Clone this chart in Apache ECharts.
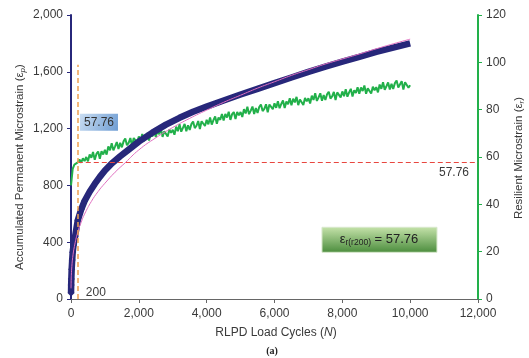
<!DOCTYPE html>
<html>
<head>
<meta charset="utf-8">
<script src="https://cdn.jsdelivr.net/npm/echarts@6/dist/echarts.min.js"></script>
<style>
html, body { margin: 0; padding: 0; background: #fff; }
#chart { width: 529px; height: 358px; }
</style>
</head>
<body>
<div id="chart"></div>
<script>
// accumulated permanent microstrain (left axis)
const permCycles = [1, 5, 10, 20, 35, 50, 75, 120, 200, 300, 400, 550, 700, 850, 1000, 1200, 1450, 1700, 2000, 2400, 2800, 3200, 3600, 4000, 4500, 5000, 5500, 6000, 6500, 7000, 7500, 8000, 8500, 9000, 9500, 10000];
const permStrain = [42, 98, 140, 210, 274, 330, 380, 440, 555, 630, 690, 755, 810, 860, 905, 955, 1005, 1052, 1108, 1172, 1228, 1276, 1318, 1355, 1398, 1440, 1480, 1520, 1560, 1600, 1636, 1671, 1705, 1740, 1770, 1800];

// power-law fit (left axis)
const fitCycles = [1, 5, 10, 25, 50, 100, 200, 300, 400, 600, 800, 1000, 1300, 1600, 2000, 2500, 3000, 3500, 4000, 4500, 5000, 5500, 6000, 6500, 7000, 7500, 8000, 8500, 9000, 9500, 10000];
const fitStrain = [75, 130, 167, 230, 292, 370, 471, 540, 598, 687, 757, 815, 893, 960, 1050, 1135, 1208, 1272, 1330, 1385, 1435, 1485, 1530, 1575, 1615, 1655, 1690, 1725, 1762, 1797, 1830];

// resilient microstrain (right axis), one sample every 50 cycles
const resStep = 50;
const resStrain = [
  48.0, 55.0, 56.8, 57.0, 57.76, 58.9, 57.6, 59.4, 58.3, 60.0,
  58.2, 61.1, 59.7, 62.1, 58.8, 61.3, 62.3, 59.3, 62.4, 61.1,
  63.0, 61.0, 64.5, 62.8, 65.8, 62.8, 64.5, 66.3, 63.4, 66.0,
  64.1, 66.6, 67.8, 65.0, 66.0, 68.0, 64.7, 68.0, 67.5, 66.1,
  68.7, 66.8, 69.7, 66.7, 68.6, 70.1, 67.0, 69.7, 68.7, 71.2,
  68.4, 71.2, 69.6, 72.0, 68.5, 70.9, 71.7, 68.7, 71.6, 70.2,
  71.5, 69.4, 72.8, 70.9, 73.8, 70.7, 72.3, 74.0, 70.9, 73.4,
  71.4, 73.9, 75.0, 72.2, 73.2, 75.2, 71.8, 75.1, 74.6, 73.1,
  75.7, 73.8, 76.7, 73.7, 75.6, 77.1, 74.0, 76.7, 75.7, 78.2,
  75.4, 78.2, 76.7, 79.1, 75.7, 78.1, 79.0, 76.0, 79.0, 77.6,
  79.0, 76.9, 80.2, 78.4, 81.2, 78.1, 79.6, 81.3, 78.2, 80.7,
  78.6, 81.1, 82.2, 79.4, 80.3, 82.3, 78.9, 82.2, 81.6, 80.2,
  82.7, 80.8, 83.6, 80.6, 82.4, 83.9, 80.7, 83.4, 82.3, 84.8,
  81.9, 84.6, 83.1, 85.4, 81.9, 84.3, 85.1, 82.0, 84.9, 83.5,
  84.8, 82.6, 85.9, 84.1, 86.9, 83.7, 85.2, 86.9, 83.8, 86.2,
  84.1, 86.5, 87.6, 84.7, 85.6, 87.5, 84.1, 87.3, 86.7, 85.2,
  87.7, 85.7, 88.6, 85.5, 87.3, 88.8, 85.6, 88.2, 87.1, 89.5,
  86.7, 89.4, 87.9, 90.2, 86.7, 89.0, 89.8, 86.8, 89.7, 88.2,
  89.5, 87.3, 90.6, 88.8, 91.6, 88.4, 89.9, 91.5, 88.5, 90.9,
  88.8, 91.2, 92.3, 89.4, 90.2, 92.0, 88.5, 91.6, 90.9, 89.3,
  90.3
];

const xTicks = { min: 0, max: 12000, step: 2000 };
const leftTicks = { min: 0, max: 2000, step: 400 };
const rightTicks = { min: 0, max: 120, step: 20 };

const refCycle = 200;
const refResilient = 57.76;
const refTopStrain = 1650;

const navy = '#27277a';
const green = '#22b04a';
const txt = '#3a3a3a';
const font = '"Liberation Sans", Arial, sans-serif';
const fmt = v => v.toLocaleString('en-US');

const chart = echarts.init(document.getElementById('chart'));

const permData = permCycles.map((n, i) => [n, permStrain[i]]);
const fitData = fitCycles.map((n, i) => [n, fitStrain[i]]);
const resData = resStrain.map((v, i) => [i * resStep, v]);

chart.setOption({
  animation: false,
  grid: { left: 71, right: 51, top: 15, bottom: 59 },
  textStyle: { fontFamily: font },
  xAxis: {
    type: 'value', min: xTicks.min, max: xTicks.max, interval: xTicks.step,
    splitLine: { show: false },
    axisLine: { lineStyle: { color: '#666', width: 1 } },
    axisTick: { lineStyle: { color: '#666' }, length: 4 },
    axisLabel: { color: txt, fontSize: 12, margin: 9, formatter: fmt }
  },
  yAxis: [{
    type: 'value', min: leftTicks.min, max: leftTicks.max, interval: leftTicks.step,
    splitLine: { show: false },
    axisLine: { show: true, lineStyle: { color: navy, width: 2 } },
    axisTick: { show: true, lineStyle: { color: navy }, length: 4 },
    axisLabel: { color: txt, fontSize: 12, margin: 8, formatter: fmt }
  }, {
    type: 'value', min: rightTicks.min, max: rightTicks.max, interval: rightTicks.step,
    position: 'right',
    splitLine: { show: false },
    axisLine: { show: true, lineStyle: { color: green, width: 2 } },
    axisTick: { show: true, lineStyle: { color: green }, length: 4 },
    axisLabel: { color: txt, fontSize: 12, margin: 8 }
  }],
  series: [{
    name: 'resilient', type: 'line', yAxisIndex: 1, data: resData,
    showSymbol: false, z: 2,
    lineStyle: { color: green, width: 2 },
    markLine: {
      silent: true, symbol: ['none', 'arrow'], symbolSize: [0, 8],
      label: { show: false },
      lineStyle: { color: '#e8473f', type: [5, 3], width: 1.2 },
      data: [[{ coord: [refCycle, refResilient] }, { coord: [xTicks.max, refResilient] }]]
    }
  }, {
    name: 'permanent', type: 'line', data: permData, z: 3,
    symbol: 'diamond',
    symbolSize: v => v[0] <= 400 ? 7 : 0,
    itemStyle: { color: navy },
    lineStyle: { color: navy, width: 6.5 },
    markLine: {
      silent: true, symbol: ['none', 'none'],
      label: { show: false },
      lineStyle: { color: '#f0a050', type: [5, 3], width: 1.5 },
      data: [[{ coord: [refCycle, 0] }, { coord: [refCycle, refTopStrain] }]]
    }
  }, {
    name: 'fit', type: 'line', data: fitData, z: 4,
    showSymbol: false, smooth: true,
    lineStyle: { color: '#e070c0', width: 1 }
  }]
});

const px = (n, v) => chart.convertToPixel({ xAxisIndex: 0, yAxisIndex: 0 }, [n, v]);
const pxR = (n, v) => chart.convertToPixel({ xAxisIndex: 0, yAxisIndex: 1 }, [n, v]);

const refPt = pxR(xTicks.max, refResilient);
const blueBox = px(265, 1305);
const greenBox = px(7400, 505);
const label200 = px(refCycle, 0);

const subRich = { fontSize: 8, fontStyle: 'italic', fill: txt, fontFamily: font, verticalAlign: 'bottom', padding: [6, 0, 0, 0] };

chart.setOption({
  graphic: [
    // left axis title
    { type: 'text', x: 20, y: 167, rotation: Math.PI / 2,
      style: { text: 'Accumulated Permanent Microstrain ({e|ε}{s|p})', fill: txt, font: '11.5px ' + font,
        align: 'center', verticalAlign: 'middle',
        rich: { e: { fontSize: 11.5, fill: txt, fontFamily: font }, s: subRich } } },
    // right axis title
    { type: 'text', x: 519, y: 158, rotation: Math.PI / 2,
      style: { text: 'Resilient Microstrain ({e|ε}{s|r})', fill: txt, font: '11.5px ' + font,
        align: 'center', verticalAlign: 'middle',
        rich: { e: { fontSize: 11.5, fill: txt, fontFamily: font }, s: subRich } } },
    // x axis title
    { type: 'text', x: 276, y: 333,
      style: { text: 'RLPD Load Cycles ({i|N})', fill: txt, font: '12px ' + font, align: 'center', verticalAlign: 'middle',
        rich: { i: { fontStyle: 'italic', fontSize: 12, fill: txt, fontFamily: font } } } },
    { type: 'text', x: 272, y: 351,
      style: { text: '(a)', fill: '#222', font: 'bold 10px "Liberation Serif", serif', align: 'center', verticalAlign: 'middle' } },
    // 200 marker label
    { type: 'text', x: label200[0] + 8, y: label200[1] - 6,
      style: { text: String(refCycle), fill: txt, font: '12px ' + font, align: 'left', verticalAlign: 'middle' } },
    // 57.76 label at the right end of the dashed line
    { type: 'text', x: refPt[0] - 9, y: refPt[1] + 10,
      style: { text: String(refResilient), fill: txt, font: '12px ' + font, align: 'right', verticalAlign: 'middle' } },
    // blue box
    { type: 'rect', x: blueBox[0], y: blueBox[1], z: 10,
      shape: { width: 38, height: 17 },
      style: { fill: new echarts.graphic.LinearGradient(0, 0, 1, 1, [{ offset: 0, color: '#c9ddf2' }, { offset: 1, color: '#6f9dd3' }]) } },
    { type: 'text', x: blueBox[0] + 19, y: blueBox[1] + 9, z: 11,
      style: { text: String(refResilient), fill: '#333', font: '12px ' + font, align: 'center', verticalAlign: 'middle' } },
    // green box
    { type: 'rect', x: greenBox[0], y: greenBox[1], z: 10,
      shape: { width: 115, height: 25 },
      style: { fill: new echarts.graphic.LinearGradient(0, 0, 0, 1, [{ offset: 0, color: '#c6e3ab' }, { offset: 1, color: '#4a8c3c' }]), stroke: '#d8e8cc', lineWidth: 1 } },
    { type: 'text', x: greenBox[0] + 57, y: greenBox[1] + 12, z: 11,
      style: { text: '{e|ε}{s|r(r200)}{n| = ' + refResilient + '}', fill: '#222', align: 'center', verticalAlign: 'middle',
        rich: {
          e: { fontSize: 13, fontFamily: font, fill: '#222' },
          s: { fontSize: 8.5, fontFamily: font, fill: '#222', verticalAlign: 'bottom', padding: [7, 0, 0, 0] },
          n: { fontSize: 13, fontFamily: font, fill: '#222' }
        } } }
  ]
});
</script>
</body>
</html>
